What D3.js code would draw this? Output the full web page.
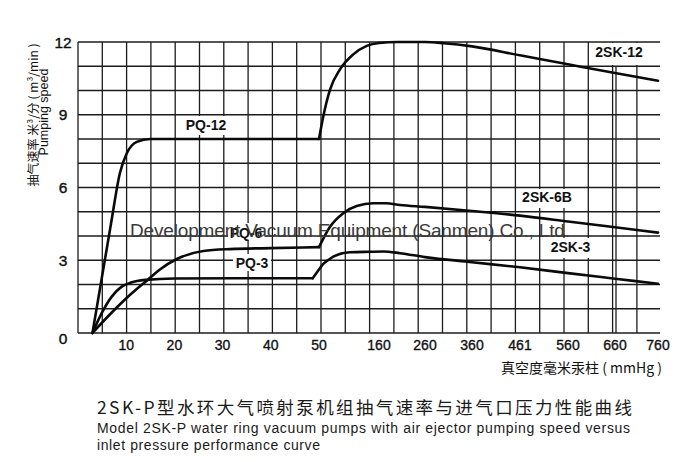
<!DOCTYPE html>
<html><head><meta charset="utf-8">
<script src="https://cdn.jsdelivr.net/npm/d3@7/dist/d3.min.js"></script>
<style>body{margin:0;background:#fff}</style>
</head><body><svg id="c" width="700" height="462"></svg>
<script>
// ---- data ----
const xTickLabels = [10, 20, 30, 40, 50, 160, 260, 360, 461, 560, 660, 760];
const yTickLabels = [0, 3, 6, 9, 12];
const xBreaks = [0, 50, 160, 260, 360, 461, 560, 660, 760];
// [mmHg, m3/min]
const pq12 = [[3,0],[6.8,4.45],[8.7,6.6],[10.1,7.4],[12.2,7.88],[15,8.0],[50,8.0]];
const sk12 = [[50,8.0],[57.9,8.94],[70.2,10.04],[88.5,10.87],[112.9,11.49],[137.5,11.84],[160,11.96],[200,12.0],[260,12.0],[300,11.95],[360,11.82],[461,11.45],[560,11.08],[660,10.72],[760,10.4]];
const pq6 = [[3,0],[6.3,0.7],[9.75,1.38],[14.5,2.2],[17,2.62],[20.5,3.05],[26,3.38],[31.5,3.46],[40,3.5],[50,3.54]];
const sk6b = [[50,3.54],[70.2,4.38],[94.5,4.94],[119,5.24],[149.5,5.35],[175,5.35],[205.6,5.28],[260,5.2],[360,5.03],[461,4.84],[560,4.6],[660,4.36],[760,4.14]];
const pq3 = [[3,0],[5,0.85],[7,1.5],[9,1.9],[11,2.08],[14,2.19],[20,2.25],[48.7,2.26]];
const sk3 = [[48.7,2.26],[51.8,2.67],[57.9,2.85],[67,3.01],[76.2,3.15],[106.8,3.33],[143.5,3.35],[170,3.36],[205.6,3.29],[260,3.13],[360,2.92],[461,2.71],[560,2.47],[660,2.24],[760,2.03]];
const seriesNames = ["PQ-12", "2SK-12", "PQ-6", "2SK-6B", "PQ-3", "2SK-3"];

// ---- layout ----
const svg = d3.select("#c");
const x = d3.scaleLinear().domain(xBreaks).range([78, 319, 379, 425, 472, 520, 568, 615, 658]);
const y = d3.scaleLinear().domain([0, 12]).range([333, 42]);
const gridX = d3.scaleLinear().domain([0, 24]).range([78, 661.2]);
const latin = "'Liberation Sans', Arial, sans-serif";
const cjk = "'Noto Sans CJK SC', sans-serif";
const ink = "#111";

// grid
const g = svg.append("g").attr("stroke", "#1c1c1c").attr("stroke-width", 1.3);
g.selectAll("line.h").data(d3.range(0, 13)).join("line")
  .attr("x1", 78).attr("x2", 660).attr("y1", d => y(d)).attr("y2", d => y(d));
g.selectAll("line.v").data(d3.range(0, 24)).join("line")
  .attr("x1", d => gridX(d)).attr("x2", d => gridX(d)).attr("y1", y(12)).attr("y2", y(0));
g.append("line").attr("x1", 616).attr("x2", 616).attr("y1", y(11)).attr("y2", y(0));

// label boxes (white)
const boxes = [[183,116,47,19],[590,43,68,22],[518,189,58,19],[547,238,47,20],[228,223,38,17],[233,254,38,17]];
svg.append("g").selectAll("rect").data(boxes).join("rect")
  .attr("x", d => d[0]).attr("y", d => d[1]).attr("width", d => d[2]).attr("height", d => d[3])
  .attr("fill", "#fff");

// curves
const line = d3.line().x(d => x(d[0])).y(d => y(d[1])).curve(d3.curveMonotoneX);
svg.append("g").selectAll("path").data([pq12, sk12, pq6, sk6b, pq3, sk3]).join("path")
  .attr("d", line).attr("fill", "none").attr("stroke", "#0a0a0a").attr("stroke-width", 2.6)
  .attr("stroke-linejoin", "round").attr("stroke-linecap", "round");

// series labels
const labelPos = [[206,129.5],[619,56.5],[246,237.5],[547,201.5],[252,267.5],[570.5,251.5]];
const lab = svg.append("g").attr("font-family", latin).attr("font-weight", "bold")
  .attr("font-size", 14).attr("fill", ink).attr("text-anchor", "middle");
seriesNames.forEach((n, i) => {
  lab.append("text").attr("x", labelPos[i][0]).attr("y", labelPos[i][1]).text(n);
});

// axis tick labels
svg.append("g").selectAll("text").data(xTickLabels).join("text")
  .attr("x", d => x(d)).attr("y", 350).attr("text-anchor", "middle")
  .attr("font-family", latin).attr("font-size", 14).attr("fill", ink)
  .attr("stroke", ink).attr("stroke-width", 0.35).text(d => d);
svg.append("g").selectAll("text").data(yTickLabels).join("text")
  .attr("x", 63).attr("y", d => y(d) + (d === 0 ? 11 : 5.5)).attr("text-anchor", "middle")
  .attr("font-family", latin).attr("font-size", 15.5).attr("fill", ink)
  .attr("stroke", ink).attr("stroke-width", 0.4).text(d => d);

// axis titles
svg.append("text").attr("x", 662).attr("y", 373).attr("text-anchor", "end")
  .attr("font-family", cjk).attr("font-size", 14).attr("fill", ink)
  .text("真空度毫米汞柱 ( mmHg )");
svg.append("text").attr("transform", "translate(32,115) rotate(-90)")
  .attr("text-anchor", "middle").attr("dominant-baseline", "central")
  .attr("font-family", cjk).attr("font-size", 12).attr("fill", ink)
  .text("抽气速率 米³/分 ( m³/min )");
svg.append("text").attr("transform", "translate(44,112) rotate(-90)")
  .attr("text-anchor", "middle").attr("dominant-baseline", "central")
  .attr("font-family", latin).attr("font-size", 12.5).attr("fill", ink)
  .text("Pumping speed");

// titles
svg.append("text").attr("x", 97).attr("y", 414).attr("font-family", cjk).attr("font-size", 17.5)
  .attr("fill", "#1a1a1a").attr("textLength", 535).attr("lengthAdjust", "spacing")
  .text("2SK-P型水环大气喷射泵机组抽气速率与进气口压力性能曲线");
svg.append("text").attr("x", 97).attr("y", 433).attr("font-family", latin).attr("font-size", 14)
  .attr("fill", "#1a1a1a").attr("textLength", 533).attr("lengthAdjust", "spacing")
  .text("Model 2SK-P water ring vacuum pumps with air ejector pumping speed versus");
svg.append("text").attr("x", 97).attr("y", 450).attr("font-family", latin).attr("font-size", 14)
  .attr("fill", "#1a1a1a").attr("textLength", 223).attr("lengthAdjust", "spacing")
  .text("inlet pressure performance curve");

// watermark
svg.append("text").attr("x", 130).attr("y", 237).attr("font-family", latin).attr("font-size", 19)
  .attr("fill", "#3a3a3a").attr("textLength", 440).attr("lengthAdjust", "spacing")
  .text("Development Vacuum Equipment (Sanmen) Co., Ltd.");
</script></body></html>
